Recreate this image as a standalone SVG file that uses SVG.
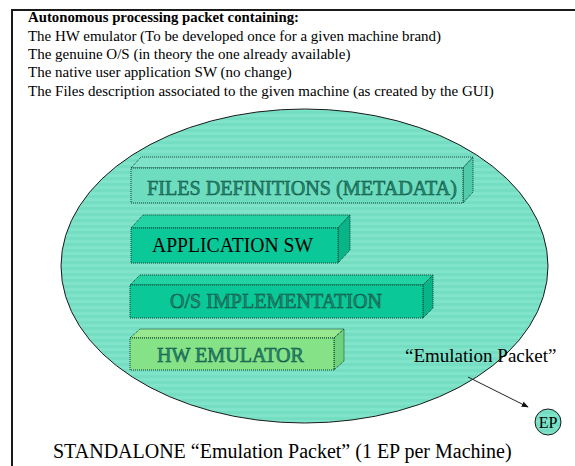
<svg xmlns="http://www.w3.org/2000/svg" width="575" height="466" viewBox="0 0 575 466">
  <style>
    text { font-family: "Liberation Serif", "Times New Roman", serif; }
    .hdr { font-size: 15px; fill: #000; }
    .edge { stroke: #0b3d31; stroke-width: 1; stroke-dasharray: 1 1; }
    .label { font-size: 20px; }
    .ghost { fill: #278a72; stroke: #0b4f40; stroke-width: 0.5; }
    .conn { stroke: #222; stroke-width: 1; fill: none; }
  </style>
  <defs>
    <pattern id="bands" width="8" height="6" patternUnits="userSpaceOnUse">
      <rect width="8" height="6" fill="#80e4cb"/>
      <rect y="3" width="8" height="3" fill="#74ddc2"/>
    </pattern>
    <marker id="arrow" viewBox="0 0 10 10" refX="9" refY="5" markerWidth="7" markerHeight="7" orient="auto">
      <path d="M0,1 L10,5 L0,9 z" fill="#111"/>
    </marker>
  </defs>

  <rect width="575" height="466" fill="#fff"/>
  <!-- outer frame (runs past the right and bottom edges) -->
  <rect x="12" y="10" width="620" height="520" fill="none" stroke="#1a1a1a" stroke-width="2"/>

  <g id="header" class="hdr">
    <text x="28" y="22" font-weight="bold" textLength="271" lengthAdjust="spacingAndGlyphs">Autonomous processing packet containing:</text>
    <text x="28" y="41" textLength="413" lengthAdjust="spacingAndGlyphs">The HW emulator (To be developed once for a given machine brand)</text>
    <text x="28" y="59">The genuine O/S (in theory the one already  available)</text>
    <text x="28" y="77">The native user application SW (no change)</text>
    <text x="28" y="96">The Files description associated to the given machine (as created by the GUI)</text>
  </g>

  <g id="packet">
    <ellipse cx="304.5" cy="266" rx="243.5" ry="157" fill="url(#bands)" stroke="#1a1a1a" stroke-width="1"/>
  </g>

  <g id="files-definitions">
    <polygon points="131,168 141,157 473,157 463,168" fill="#7ee3c8" class="edge"/>
    <polygon points="463,168 473,157 473,192 463,203" fill="#52cca8" class="edge"/>
    <rect x="131" y="168" width="332" height="35" fill="#6edcbf" class="edge"/>
    <text x="147" y="195" class="label ghost" textLength="310" lengthAdjust="spacingAndGlyphs">FILES DEFINITIONS (METADATA)</text>
  </g>

  <g id="application-sw">
    <polygon points="131,228 143,215 350,215 338,228" fill="#22d2a2" class="edge"/>
    <polygon points="338,228 350,215 350,250 338,263" fill="#08b488" class="edge"/>
    <rect x="131" y="228" width="207" height="35" fill="#0ac898" class="edge"/>
    <text x="152" y="252" class="label" fill="#000" textLength="161" lengthAdjust="spacingAndGlyphs">APPLICATION SW</text>
  </g>

  <g id="os-implementation">
    <polygon points="130,285 140,275 433,275 423,285" fill="#22d2a2" class="edge"/>
    <polygon points="423,285 433,275 433,308 423,318" fill="#08b488" class="edge"/>
    <rect x="130" y="285" width="293" height="33" fill="#0ac898" class="edge"/>
    <text x="170" y="308" class="label ghost" textLength="212" lengthAdjust="spacingAndGlyphs">O/S IMPLEMENTATION</text>
  </g>

  <g id="hw-emulator">
    <polygon points="130,338 140,329 344,329 334,338" fill="#98e890" class="edge"/>
    <polygon points="334,338 344,329 344,361 334,370" fill="#70d27c" class="edge"/>
    <rect x="130" y="338" width="204" height="32" fill="#86e286" class="edge"/>
    <text x="157" y="362" class="label ghost" textLength="147" lengthAdjust="spacingAndGlyphs">HW EMULATOR</text>
  </g>

  <g id="emulation-packet-label">
    <text x="405" y="362" font-size="19" fill="#000">“Emulation Packet”</text>
  </g>

  <g id="ep">
    <circle cx="548" cy="422" r="13" fill="url(#bands)" stroke="#1a1a1a" stroke-width="1"/>
    <text x="548" y="428" font-size="16" text-anchor="middle" fill="#000">EP</text>
  </g>

  <g id="connectors">
    <line x1="468" y1="377" x2="528" y2="407" class="conn" marker-end="url(#arrow)"/>
  </g>

  <g id="caption">
    <text x="53" y="458" font-size="20" fill="#000">STANDALONE “Emulation Packet” (1 EP per Machine)</text>
  </g>
</svg>
